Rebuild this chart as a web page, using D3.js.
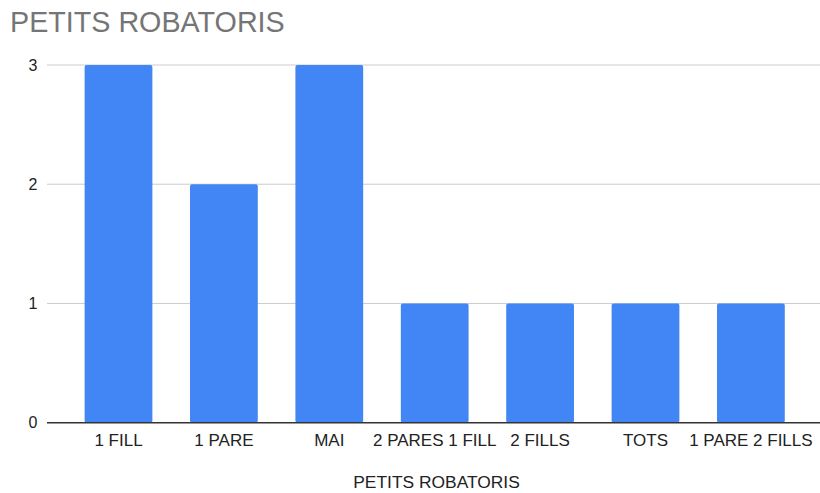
<!DOCTYPE html>
<html lang="ca">
<head>
  <meta charset="UTF-8" />
  <title>PETITS ROBATORIS</title>
  <script src="https://d3js.org/d3.v7.min.js"></script>
  <style>
    body {
      margin: 0;
      background: #fff;
      font-family: "Liberation Sans", Arial, sans-serif;
    }
    svg {
      display: block;
    }
  </style>
</head>
<body>
  <svg width="820" height="493" id="chart"></svg>

  <script>
    const categories = ["1 FILL", "1 PARE", "MAI", "2 PARES 1 FILL", "2 FILLS", "TOTS", "1 PARE 2 FILLS"];
    const values = [3, 2, 3, 1, 1, 1, 1];
    const yTicks = [0, 1, 2, 3];
    const chartTitle = "PETITS ROBATORIS";
    const xTitle = "PETITS ROBATORIS";

    const svg = d3.select("#chart");
    const width = 820;

    const x = d3.scaleBand()
      .domain(categories)
      .range([65.8, 803.6])
      .paddingInner(0.357)
      .paddingOuter(0.1785);

    const y = d3.scaleLinear()
      .domain([0, 3])
      .range([422.7, 65]);

    // title
    svg.append("text")
      .attr("x", 10)
      .attr("y", 32.3)
      .attr("font-size", 28.7)
      .attr("fill", "#757575")
      .text(chartTitle);

    // gridlines
    svg.append("g")
      .selectAll("line")
      .data(yTicks.filter(d => d > 0))
      .join("line")
      .attr("x1", 47)
      .attr("x2", width)
      .attr("y1", d => y(d))
      .attr("y2", d => y(d))
      .attr("stroke", "#cccccc")
      .attr("stroke-width", 1);

    // y labels
    svg.append("g")
      .selectAll("text")
      .data(yTicks)
      .join("text")
      .attr("x", 37.5)
      .attr("y", d => y(d))
      .attr("dy", "0.36em")
      .attr("text-anchor", "end")
      .attr("font-size", 16)
      .attr("fill", "#222")
      .text(d => d);

    // bars
    svg.append("g")
      .selectAll("rect")
      .data(values)
      .join("rect")
      .attr("x", (d, i) => x(categories[i]))
      .attr("y", d => y(d))
      .attr("width", x.bandwidth())
      .attr("height", d => y(0) - y(d))
      .attr("rx", 2)
      .attr("fill", "#4285f4");

    // baseline
    svg.append("line")
      .attr("x1", 47)
      .attr("x2", width)
      .attr("y1", y(0))
      .attr("y2", y(0))
      .attr("stroke", "#333")
      .attr("stroke-width", 1.5);

    // x labels
    svg.append("g")
      .selectAll("text")
      .data(categories)
      .join("text")
      .attr("x", d => x(d) + x.bandwidth() / 2)
      .attr("y", 445.7)
      .attr("text-anchor", "middle")
      .attr("font-size", 17)
      .attr("fill", "#222")
      .text(d => d);

    // x axis title
    svg.append("text")
      .attr("x", 436.5)
      .attr("y", 488.3)
      .attr("text-anchor", "middle")
      .attr("font-size", 17.4)
      .attr("fill", "#222")
      .text(xTitle);
  </script>
</body>
</html>
